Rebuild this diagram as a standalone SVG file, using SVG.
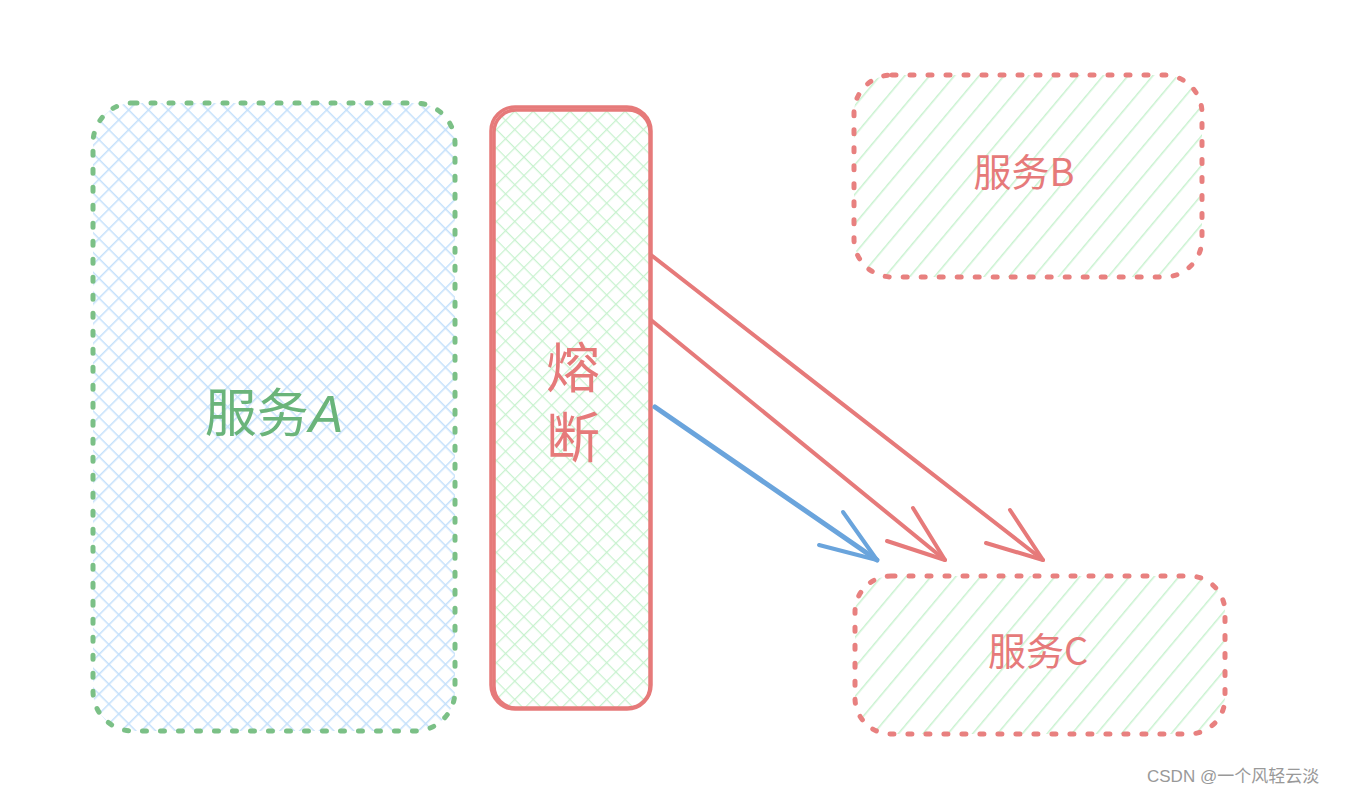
<svg xmlns="http://www.w3.org/2000/svg" width="1353" height="794" viewBox="0 0 1353 794">
<style>
.dotG{fill:url(#hatchBlue);stroke:#7bc086;stroke-width:5;stroke-dasharray:4 14;stroke-linecap:round}
.dotR{fill:url(#hatchGreen1);stroke:#e8807f;stroke-width:5;stroke-dasharray:4 14;stroke-linecap:round}
.solidR{fill:none;stroke:#e67a7a;stroke-width:3.5}
.lblR{fill:#e67a7a;font-family:"Noto Sans CJK SC","Liberation Sans",sans-serif}
.lblG{fill:#6ab47a;font-family:"Noto Sans CJK SC","Liberation Sans",sans-serif}
.ar{fill:none;stroke:#e67a7a;stroke-linecap:round}
.ab{fill:none;stroke:#6aa4dc;stroke-linecap:round}
</style>
<defs>
<pattern id="hatchBlue" width="14" height="14" patternUnits="userSpaceOnUse" patternTransform="rotate(45)">
<line x1="0" y1="0" x2="0" y2="14" stroke="#c4e0fb" stroke-width="3"/>
<line x1="0" y1="0" x2="14" y2="0" stroke="#c4e0fb" stroke-width="3"/>
</pattern>
<pattern id="hatchGreenX" width="13" height="13" patternUnits="userSpaceOnUse" patternTransform="rotate(45)">
<line x1="0" y1="0" x2="0" y2="13" stroke="#c8f2cf" stroke-width="2.5"/>
<line x1="0" y1="0" x2="13" y2="0" stroke="#c8f2cf" stroke-width="2.5"/>
</pattern>
<pattern id="hatchGreen1" width="19" height="19" patternUnits="userSpaceOnUse" patternTransform="rotate(40)">
<line x1="0" y1="0" x2="0" y2="19" stroke="#c8f2cf" stroke-width="3"/>
</pattern>
</defs>
<rect width="1353" height="794" fill="#ffffff"/>
<g id="serviceA">
<rect class="dotG" x="93" y="103" width="362" height="628" rx="40"/>
<text class="lblG" x="274" y="432" font-size="52" text-anchor="middle">服务<tspan font-style="italic" font-family="Liberation Sans, sans-serif">A</tspan></text>
</g>
<g id="breaker">
<rect x="494" y="110" width="156" height="598" rx="22" fill="url(#hatchGreenX)"/>
<rect class="solidR" x="494" y="110" width="156" height="598" rx="22"/>
<rect class="solidR" x="491" y="107" width="160" height="602" rx="24" stroke-width="2.5"/>
<text class="lblR" x="573" y="340" font-size="54" writing-mode="tb" letter-spacing="16">熔断</text>
</g>
<g id="serviceB">
<rect class="dotR" x="854" y="75" width="348" height="202" rx="38"/>
<text class="lblR" x="1024" y="186" font-size="38" text-anchor="middle">服务B</text>
</g>
<g id="serviceC">
<rect class="dotR" x="855" y="576" width="370" height="158" rx="36"/>
<text class="lblR" x="1038" y="665" font-size="38" text-anchor="middle">服务C</text>
</g>
<g id="connectors">
<path class="ar" stroke-width="4" d="M651 255 L1043 560"/>
<path class="ar" stroke-width="4" d="M1010 510 L1043 560 M986 543 L1043 560"/>
<path class="ar" stroke-width="4" d="M651 320 L945 560"/>
<path class="ar" stroke-width="4" d="M913 508 L945 560 M887 541 L945 560"/>
<path class="ab" stroke-width="5" d="M655 407 L877 560"/>
<path class="ab" stroke-width="4" d="M843 512 L877 560 M819 545 L877 560"/>
</g>
<text x="1147" y="782" font-size="17" fill="#999999" font-family="Liberation Sans, Noto Sans CJK SC, sans-serif">CSDN @一个风轻云淡</text>
</svg>
